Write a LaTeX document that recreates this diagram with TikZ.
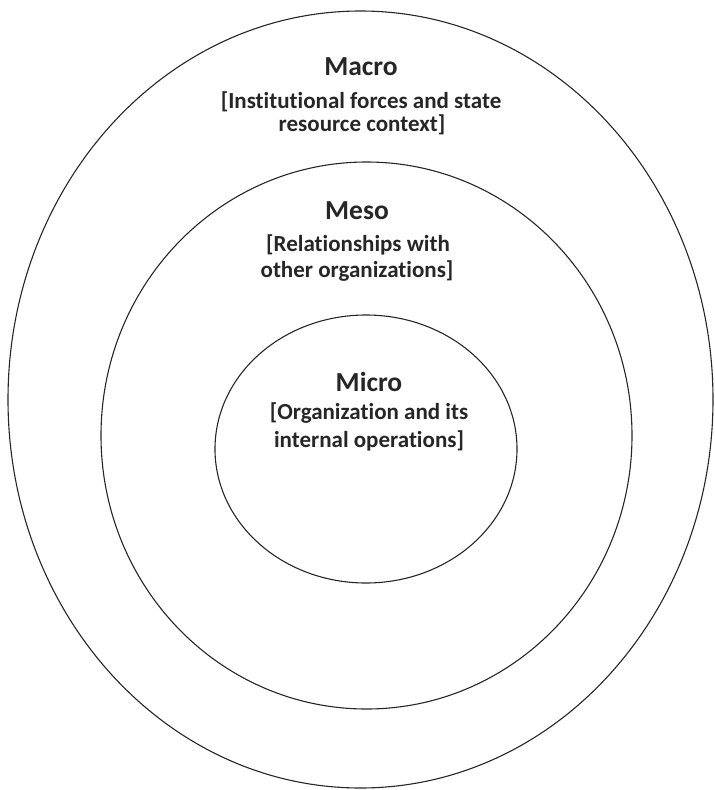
\documentclass[tikz,border=0pt]{standalone}
\usepackage{fontspec}
\setmainfont{Carlito}[RawFeature={-liga;-dlig;-calt;-clig}]
\begin{document}
\begin{tikzpicture}[x=1pt,y=-1pt,
  ring/.style={draw=black!85,line width=1.1pt},
  ttl/.style={font=\bfseries\fontsize{27.5}{32}\selectfont,text=black!85,anchor=base,inner sep=0pt},
  sub/.style={font=\bfseries\fontsize{23}{27}\selectfont,text=black!85,anchor=base,inner sep=0pt}]
\useasboundingbox (0,0) rectangle (715,790);
\draw[ring] (360.5,399.5) ellipse [x radius=352.5, y radius=388.5];
\draw[ring] (366.5,435.5) ellipse [x radius=265.5, y radius=273.5];
\draw[ring] (366,449) ellipse [x radius=151, y radius=134];
\node[ttl] (macro) at (361,75) {Macro};
\node[sub] (macro1) at (361,108) {[Institutional forces and state};
\node[sub] (macro2) at (362,131) {resource context]};
\node[ttl] (meso) at (357,219) {Meso};
\node[sub] (meso1) at (358,251) {[Relationships with};
\node[sub] (meso2) at (357,277) {other organizations]};
\node[ttl] (micro) at (369,391) {Micro};
\node[sub] (micro1) at (369,419) {[Organization and its};
\node[sub] (micro2) at (369,447) {internal operations]};
\end{tikzpicture}
\end{document}
